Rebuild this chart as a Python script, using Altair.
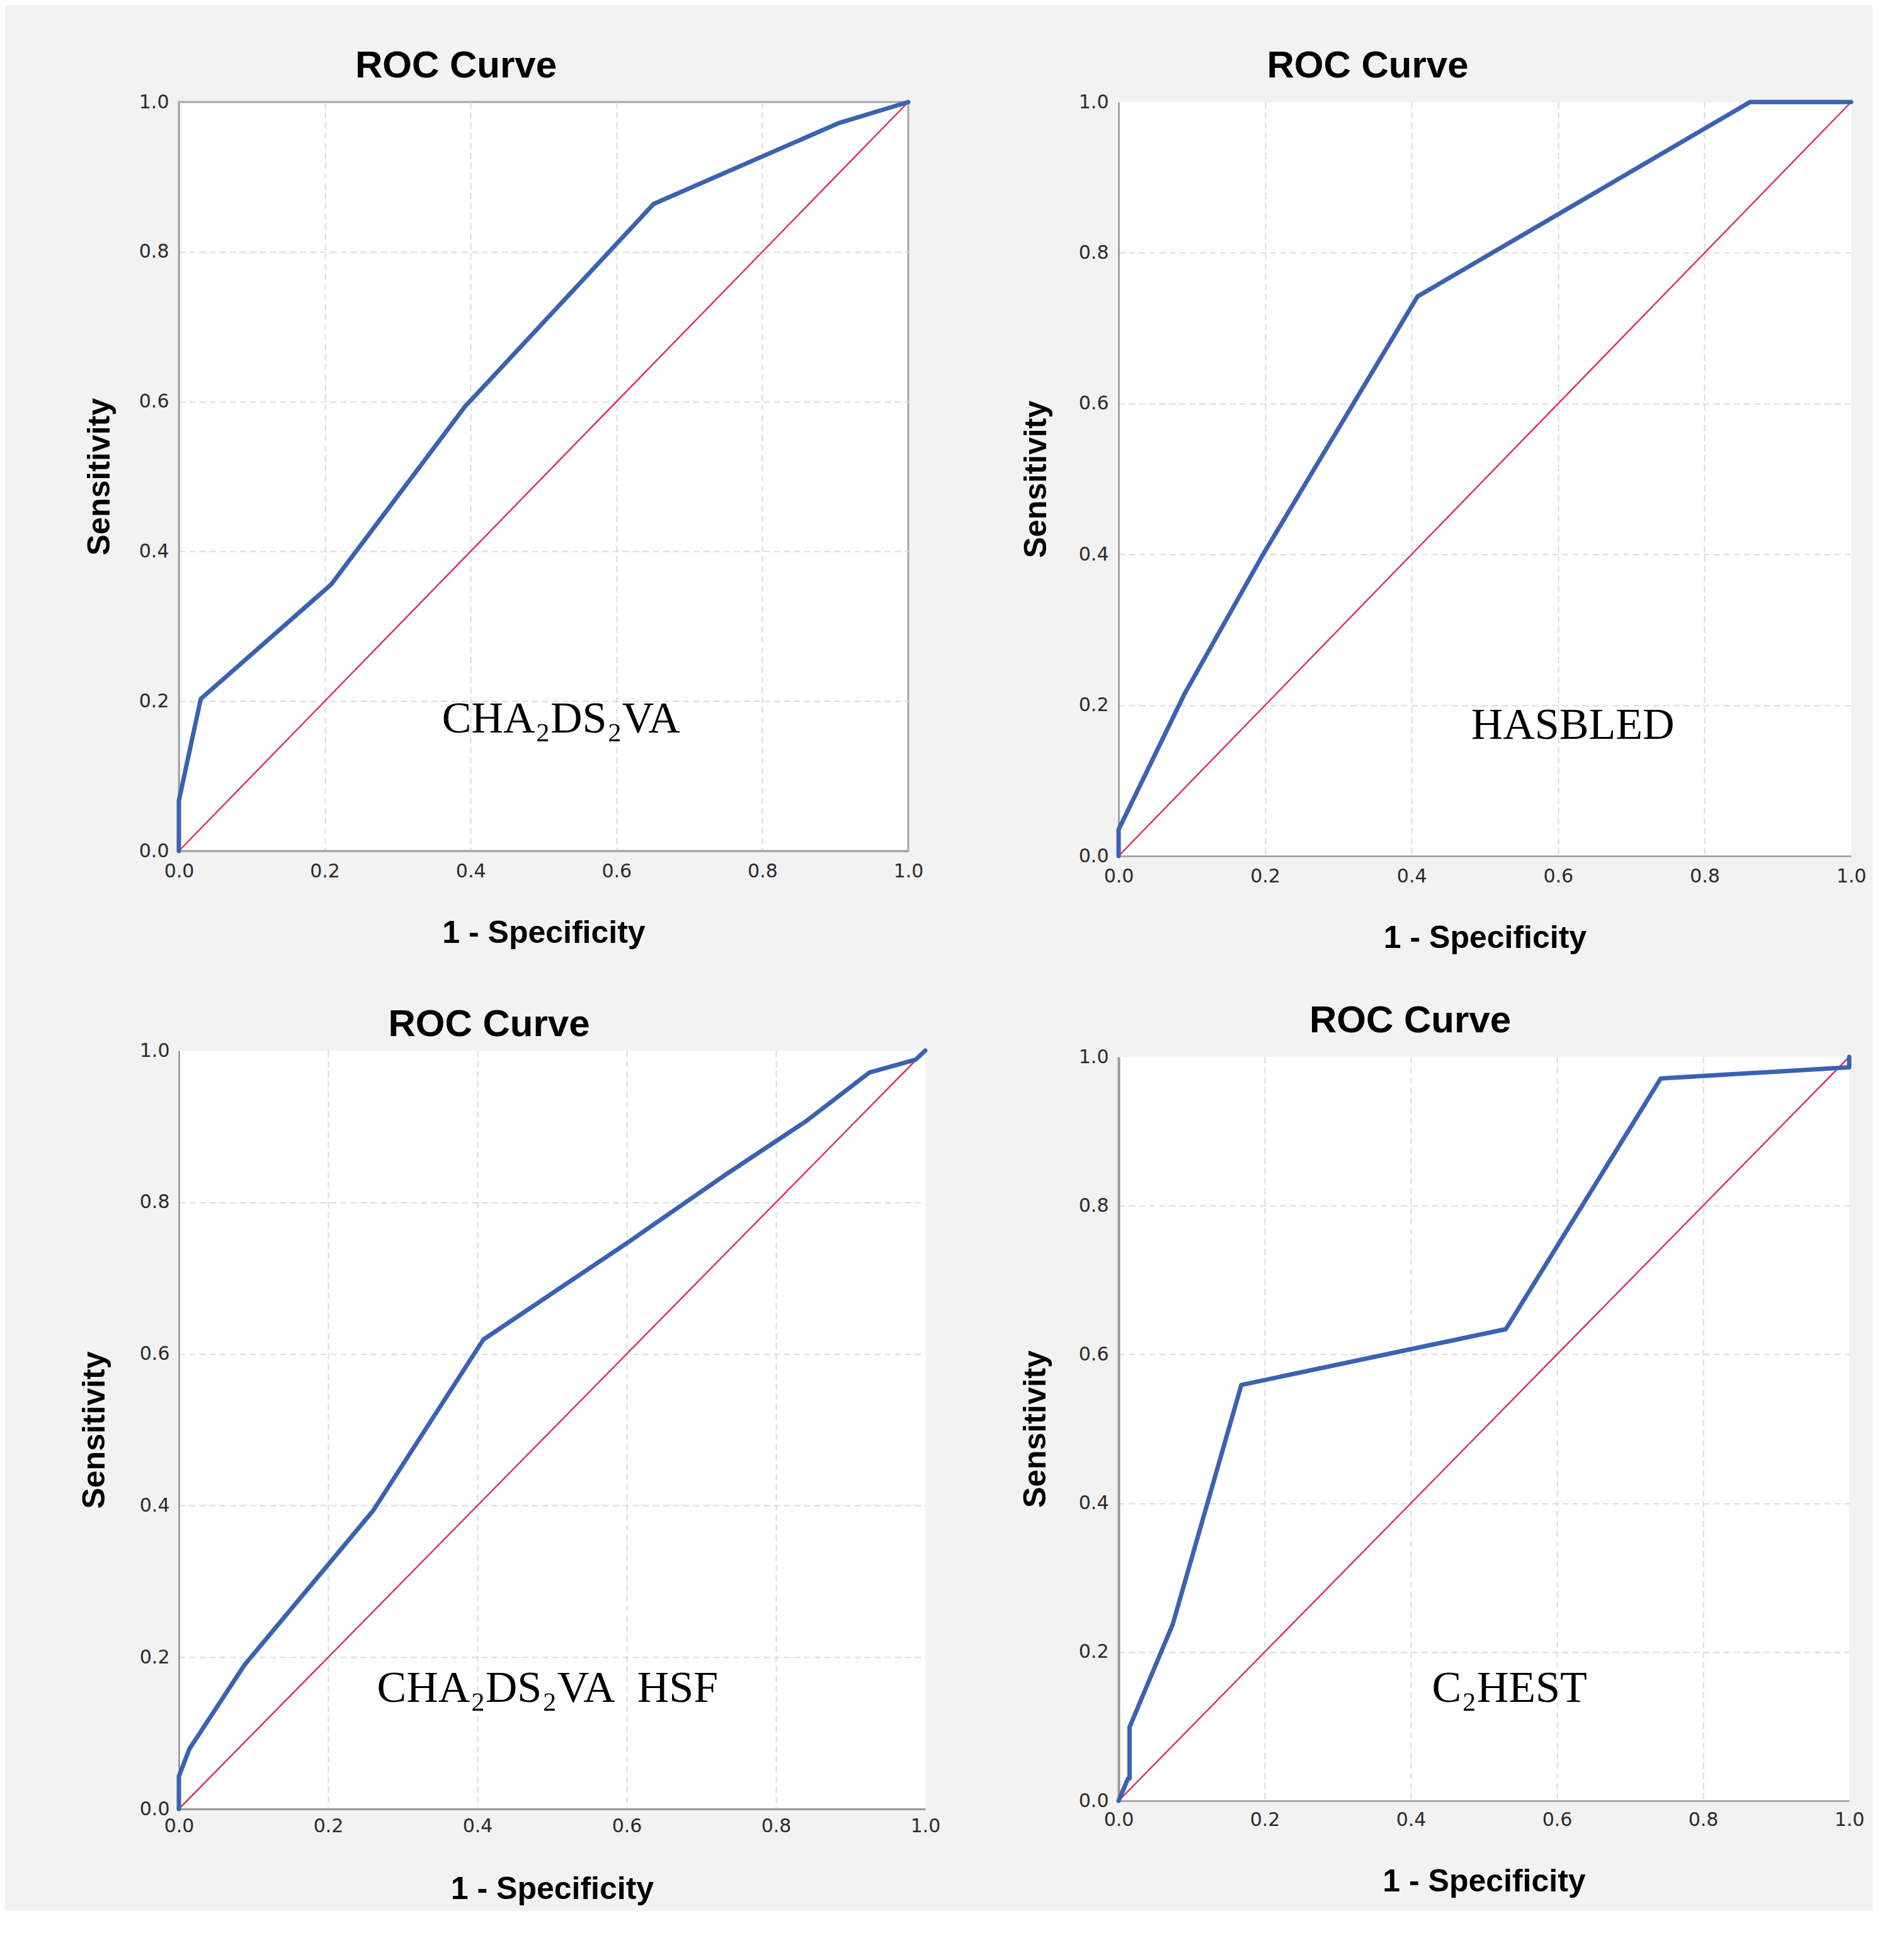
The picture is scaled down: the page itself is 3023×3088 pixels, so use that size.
import altair as alt
import pandas as pd

# ---------------- data ----------------
cha_fpr = [0.0, 0.0, 0.030, 0.209, 0.392, 0.651, 0.905, 1.0]
cha_tpr = [0.0, 0.067, 0.203, 0.356, 0.593, 0.864, 0.972, 1.0]

has_fpr = [0.0, 0.0, 0.090, 0.196, 0.408, 0.862, 1.0]
has_tpr = [0.0, 0.035, 0.215, 0.398, 0.742, 1.0, 1.0]

hsf_fpr = [0.0, 0.0, 0.014, 0.088, 0.260, 0.408, 0.600, 0.732, 0.839, 0.925, 0.987, 1.0]
hsf_tpr = [0.0, 0.043, 0.079, 0.190, 0.393, 0.619, 0.746, 0.836, 0.906, 0.971, 0.988, 1.0]

c2h_fpr = [0.0, 0.013, 0.015, 0.015, 0.074, 0.168, 0.530, 0.742, 1.0, 1.0]
c2h_tpr = [0.0, 0.030, 0.030, 0.099, 0.237, 0.559, 0.634, 0.971, 0.986, 1.0]

ref_line = [0.0, 1.0]
ticks = [0.0, 0.2, 0.4, 0.6, 0.8, 1.0]

labels = ["CHA\u2082DS\u2082VA", "HASBLED", "CHA\u2082DS\u2082VA\u00a0 HSF", "C\u2082HEST"]
label_x = [0.524, 0.620, 0.494, 0.535]
label_y = [0.176, 0.173, 0.159, 0.151]

BLUE = "#3b62b2"
RED = "#d8336b"
SANS = "Liberation Sans"
TICKFONT = "DejaVu Sans"


def panel(fpr, tpr, label, lx, ly, w, h, title_dx, title_off,
          ylab_pad, ytitle_pad, yline, xlab_pad, xtitle_pad, xline, box):
    curve = pd.DataFrame({"fpr": fpr, "tpr": tpr, "ord": list(range(len(fpr)))})
    diag = pd.DataFrame({"fpr": ref_line, "tpr": ref_line})
    ann = pd.DataFrame({"x": [lx], "y": [ly], "t": [label]})
    grid_op = {"condition": {"test": "datum.value >= 1 || datum.value <= 0", "value": 0}, "value": 1}

    common = dict(values=ticks, format=".1f", grid=True, labelFlush=False,
                  gridColor="#dcdcdc", gridDash=[10, 6], gridWidth=2, gridOpacity=grid_op,
                  ticks=False, labelFont=TICKFONT, labelFontSize=30, labelColor="#2a2a2a",
                  titleFont=SANS, titleFontSize=50, titleFontWeight="bold", titleColor="#000000")
    xaxis = alt.Axis(title="1 - Specificity", labelPadding=xlab_pad, titlePadding=xtitle_pad,
                     domainColor=xline[0], domainWidth=xline[1], **common)
    yaxis = alt.Axis(title="Sensitivity", labelPadding=ylab_pad, titlePadding=ytitle_pad,
                     domainColor=yline[0], domainWidth=yline[1], **common)
    xs = alt.Scale(domain=[0, 1], nice=False, zero=False)
    ys = alt.Scale(domain=[0, 1], nice=False, zero=False)

    base_d = alt.Chart(diag).mark_line(color=RED, strokeWidth=2.5, clip=False).encode(
        x=alt.X("fpr:Q", scale=xs, axis=xaxis),
        y=alt.Y("tpr:Q", scale=ys, axis=yaxis),
    )
    line = alt.Chart(curve).mark_line(color=BLUE, strokeWidth=7, strokeJoin="round",
                                      strokeCap="round", clip=False).encode(
        x="fpr:Q", y="tpr:Q", order="ord:Q")
    txt = alt.Chart(ann).mark_text(font="Liberation Serif", fontSize=70, color="#000000",
                                   align="center", baseline="middle").encode(
        x="x:Q", y="y:Q", text="t:N")
    view = dict(fill="white")
    if box:
        view.update(stroke=box[0], strokeWidth=box[1])
    else:
        view.update(stroke=None)
    return alt.layer(base_d, line, txt).properties(
        width=w, height=h,
        title=alt.TitleParams("ROC Curve", font=SANS, fontSize=60, fontWeight="bold",
                              color="#000000", anchor="middle", dx=title_dx, offset=title_off),
        view=alt.ViewBackground(**view),
    )


A = panel(cha_fpr, cha_tpr, labels[0], label_x[0], label_y[0], 1158, 1189, -139, 11,
          16, 37, ("#a6a6a6", 3), 17, 58, ("#a6a6a6", 3), ("#a6a6a6", 3))
B = panel(has_fpr, has_tpr, labels[1], label_x[1], label_y[1], 1163, 1197, -186, 11,
          16, 42, ("#555555", 1.5), 17, 58, ("#999999", 2.5), None)
C = panel(hsf_fpr, hsf_tpr, labels[2], label_x[2], label_y[2], 1185, 1204, -100, -5,
          15, 46, ("#555555", 1.5), 12, 60, ("#999999", 3), None)
D = panel(c2h_fpr, c2h_tpr, labels[3], label_x[3], label_y[3], 1160, 1181, -117, 11,
          16, 43, ("#999999", 4), 15, 58, ("#aaaaaa", 3), None)

col1 = alt.vconcat(A, C, spacing=89)
col2 = alt.vconcat(B, D, spacing=77)
chart = alt.hconcat(col1, col2, spacing=126).properties(
    padding={"left": 117, "top": 65, "right": 10, "bottom": 10},
    background="#f2f2f2",
).configure_view(fill="white")

chart.save("out.html", embed_options={"renderer": "svg", "actions": False})
